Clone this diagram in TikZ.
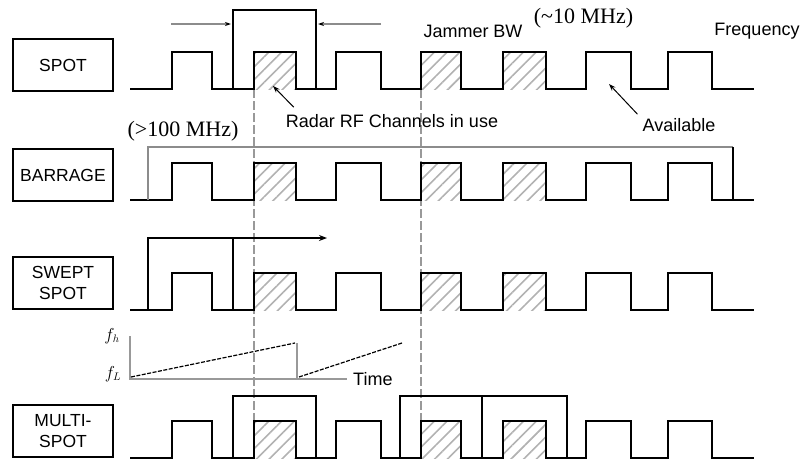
\documentclass[tikz,border=0pt]{standalone}
\usepackage{fontspec}
\setsansfont{Liberation Sans}
\newfontfamily\timesfont{Liberation Serif}
\usepackage{tikz}
\usetikzlibrary{arrows.meta, positioning, patterns.meta}

\begin{document}
\begin{tikzpicture}[
    x=1pt, y=-1pt,
    mode/.style={draw, rectangle, line width=1.5pt, minimum width=100pt, minimum height=52pt, align=center, font=\sffamily\fontsize{17.5}{21}\selectfont},
    wave/.style={line width=1.5pt},
    jam/.style={line width=1.5pt},
    hatch/.style={pattern={Lines[angle=45, distance=9pt, line width=1.6pt]}, pattern color=black!30},
    guide/.style={draw=black!40, line width=1.2pt, dash pattern=on 9pt off 3pt},
    axis/.style={draw=black!40, line width=2pt},
    sweep/.style={line width=1.2pt, dash pattern=on 4pt off 1.5pt},
    txt/.style={font=\sffamily\fontsize{18}{21}\selectfont, inner sep=0pt},
    mhz/.style={font=\timesfont\fontsize{22}{24}\selectfont, inner sep=0pt},
    bw/.style={-{Stealth[length=6pt, width=4pt, black]}, draw=black!45, line width=1.2pt},
    arr/.style={-{Stealth[length=7pt, width=5pt]}, line width=1pt}
  ]
  \useasboundingbox (0,0) rectangle (803,461);
  % Jammer modes
  \node[mode] (spot) at (63,65) {SPOT};
  \node[mode] (barrage) at (63,175) {BARRAGE};
  \node[mode] (swept) at (63,283) {SWEPT\\SPOT};
  \node[mode] (multi) at (63,431) {MULTI-\\SPOT};
  % Radar channels (hatched ones in use)
  \foreach \b in {89,200,310,458}
    \foreach \s/\e in {254/296,421/461,503/546}
      \fill[hatch] (\s,\b) rectangle (\e,{\b-37});
  \draw[guide] (254,89) -- (254,420);
  \draw[guide] (421,89) -- (421,420);
  \foreach \b in {89,200,310,458}
    \draw[wave] (130,\b)
      foreach \s/\e in {172/212,254/296,336/381,421/461,503/546,586/631,668/712}
        { -- (\s,\b) -- (\s,{\b-37}) -- (\e,{\b-37}) -- (\e,\b) }
      -- (754,\b);
  % Spot
  \draw[jam] (233,89) |- (316,10) -- (316,89);
  \coordinate (bwl) at (231,24);
  \coordinate (bwr) at (318,24);
  \draw[bw] (171,24) -- (bwl);
  \draw[bw] (381,24) -- (bwr);
  \node[txt] (jbw) at (473,31) {Jammer BW};
  \node[mhz, right=11pt of jbw, yshift=13pt] (tenmhz) {(\textasciitilde10 MHz)};
  \node[txt] (freq) at (757,31) {Frequency};
  \node[txt] (rf) at (392,121) {Radar RF Channels in use};
  \coordinate (used) at (273,86);
  \draw[arr] ([xshift=8pt, yshift=7pt]rf.north west) -- (used);
  \node[txt] (avail) at (679,125) {Available};
  \coordinate (free) at (609,84);
  \draw[arr] ([xshift=-5pt, yshift=4pt]avail.north west) -- (free);
  % Barrage
  \node[mhz] (hundredmhz) at (183,131) {(>100 MHz)};
  \draw[jam, draw=black!45] (148,200) |- (733,147);
  \draw[jam] (733,147) -- (733,200);
  % Swept spot
  \draw[jam] (148,310) |- (233,238) -- (233,310);
  \draw[jam, -{Stealth[length=8pt, width=6pt]}] (233,238) -- (327,238);
  \draw[axis] (130,336) |- (347,379);
  \node[txt, anchor=west] (time) at (353,379) {Time};
  \node[font=\fontsize{16}{18}\selectfont] (fh) at (112,336) {$f_h$};
  \node[font=\fontsize{16}{18}\selectfont] (fl) at (113,374) {$f_L$};
  \draw[sweep] (131,377) -- (295,343);
  \draw[axis] (297,343) -- (297,379);
  \draw[sweep] (299,377) -- (402,343);
  % Multi-spot
  \draw[jam] (233,458) |- (316,396) -- (316,458);
  \draw[jam] (400,458) |- (567,396) -- (567,458);
  \draw[jam] (482,396) -- (482,458);
\end{tikzpicture}
\end{document}
